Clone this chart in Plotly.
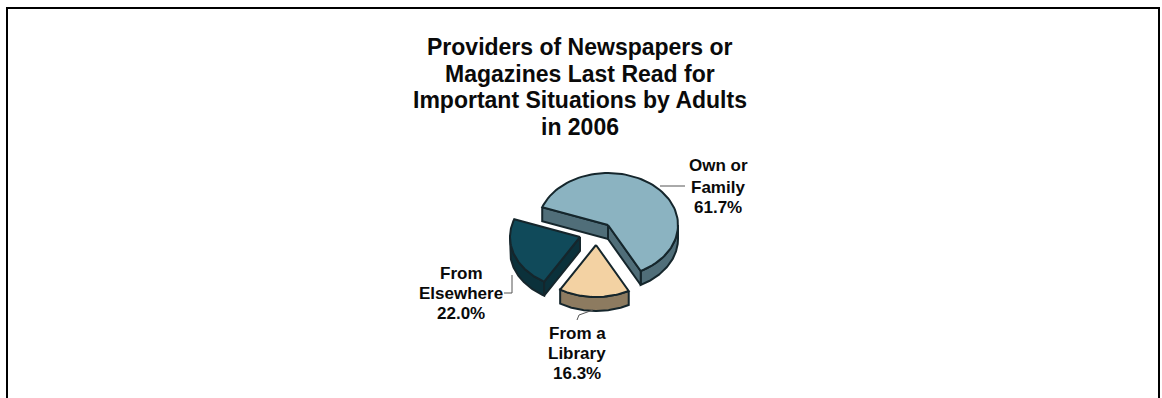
import numpy as np
import plotly.graph_objects as go

title_lines = ["Providers of Newspapers or", "Magazines Last Read for",
               "Important Situations by Adults", "in 2006"]
categories = ["Own or Family", "From a Library", "From Elsewhere"]
shares = [61.7, 16.3, 22.0]

# Tilted-pie geometry on a pixel-sized plotting area
W, H = 1162, 398
CX, CY = 608, 225
RX, RY = 70, 52
DEPTH = 14
START_DEG = 160
pull = [(0, 0), (-12, 20), (-28, 12)]
top_colors = ["#8BB3C1", "#F3D2A3", "#104A5A"]
side_colors = ["#506E79", "#8D7B60", "#0B313B"]
edge_color = "#15262C"


def arc(a0, a1, ox, oy, drop=0, n=80):
    t = np.radians(np.linspace(a0, a1, n))
    return ox + RX * np.cos(t), oy - RY * np.sin(t) + drop


def polygon(fig, xs, ys, color):
    fig.add_trace(go.Scatter(x=np.append(xs, xs[0]), y=np.append(ys, ys[0]),
                             mode="lines", fill="toself", fillcolor=color,
                             line=dict(color=edge_color, width=2),
                             hoverinfo="skip", showlegend=False))


def wall(fig, p, q, color):
    xs = np.array([p[0], q[0], q[0], p[0]])
    ys = np.array([p[1], q[1], q[1] + DEPTH, p[1] + DEPTH])
    polygon(fig, xs, ys, color)


def faces_viewer(normal_deg):
    return np.sin(np.radians(normal_deg)) < 0


fig = go.Figure()

angle = START_DEG
for share, (dx, dy), top, side in zip(shares, pull, top_colors, side_colors):
    a0, a1 = angle, angle - share * 3.6
    angle = a1
    ox, oy = CX + dx, CY + dy

    # The rim shows only along the near half of the ellipse
    near0, near1 = min(a0, 0), max(a1, -180)
    rx, ry = arc(near0, near1, ox, oy)
    bx, by = arc(near1, near0, ox, oy, DEPTH)
    polygon(fig, np.r_[rx, bx], np.r_[ry, by], side)

    ex0, ey0 = arc(a0, a0, ox, oy, n=1)
    ex1, ey1 = arc(a1, a1, ox, oy, n=1)
    # Cut faces that turn towards the viewer
    if faces_viewer(a0 + 90):
        wall(fig, (ex0[0], ey0[0]), (ox, oy), side)
    if faces_viewer(a1 - 90):
        wall(fig, (ox, oy), (ex1[0], ey1[0]), side)

    tx, ty = arc(a0, a1, ox, oy)
    polygon(fig, np.r_[ox, tx], np.r_[oy, ty], top)

# Leader lines from the labels to their slices
leaders = [([660, 685], [186, 186]),
           ([512, 512, 504], [275, 293, 293]),
           ([593, 579, 577], [310, 315, 320])]
for lx, ly in leaders:
    fig.add_trace(go.Scatter(x=lx, y=ly, mode="lines", hoverinfo="skip",
                             line=dict(color="#555555", width=1), showlegend=False))

FONT = "Liberation Sans, Arial, sans-serif"
title_y = [47, 73.5, 100, 127]
for text, y in zip(title_lines, title_y):
    fig.add_annotation(x=580, y=y, text=f"<b>{text}</b>", showarrow=False,
                       font=dict(family=FONT, size=23, color="#0A0A0A"))

label_rows = [
    (718, [165, 187, 207], ["Own or", "Family", f"{shares[0]}%"]),
    (577, [333, 353, 373], ["From a", "Library", f"{shares[1]}%"]),
    (461, [273, 293, 313], ["From", "Elsewhere", f"{shares[2]:.1f}%"]),
]
for x, ys, rows in label_rows:
    for y, row in zip(ys, rows):
        fig.add_annotation(x=x, y=y, text=f"<b>{row}</b>", showarrow=False,
                           font=dict(family=FONT, size=17, color="#0A0A0A"))

# Page frame, open along the bottom
fig.add_shape(type="path", path="M 7 398 L 7 8 L 1159 8 L 1159 398",
              line=dict(color="#000000", width=2), layer="above")

fig.update_xaxes(range=[0, W], visible=False, fixedrange=True)
fig.update_yaxes(range=[H, 0], visible=False, fixedrange=True)
fig.update_layout(width=W, height=H, margin=dict(l=0, r=0, t=0, b=0),
                  paper_bgcolor="white", plot_bgcolor="white", showlegend=False)
fig.write_html("out.html", config=dict(displayModeBar=False))
